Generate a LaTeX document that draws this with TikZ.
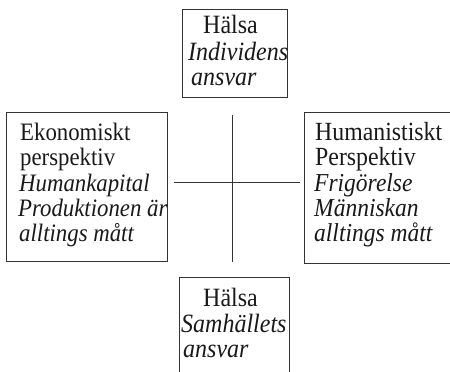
\documentclass[tikz,border=0pt]{standalone}
\usepackage{graphicx}
\usepackage{fontspec}
\setmainfont{Liberation Serif}
\newcommand\vst[1]{\scalebox{1}[1.1]{#1}}
\begin{document}
\begin{tikzpicture}[x=1pt,y=-1pt,
  box/.style={draw=black!80, line width=1pt, inner sep=0pt, anchor=north west},
  txt/.style={anchor=base west, inner sep=0pt, text=black!90, font=\fontsize{22.8}{26}\selectfont},
  itx/.style={txt, font=\fontsize{22.8}{26}\selectfont\itshape},
  big/.style={font=\fontsize{24}{26}\selectfont},
  bigit/.style={font=\fontsize{24}{26}\selectfont\itshape},
  mid/.style={font=\fontsize{23.8}{26}\selectfont},
  midit/.style={font=\fontsize{23.5}{26}\selectfont\itshape},
  rule/.style={draw=black!80, line width=1pt}]
\useasboundingbox (0,0) rectangle (450,372);
\clip (0,0) rectangle (450,372);
% boxes
\node[box, minimum width=105pt, minimum height=88pt] (topbox) at (182,9) {};
\node[box, minimum width=161pt, minimum height=149pt] (leftbox) at (6,112) {};
\node[box, minimum width=156pt, minimum height=151pt] (rightbox) at (304,112) {};
\node[box, minimum width=110pt, minimum height=103pt] (botbox) at (179,277) {};
% cross
\coordinate (h1) at (174,182);
\coordinate (h2) at (300,182);
\coordinate (v1) at (232,115);
\coordinate (v2) at (232,262);
\draw[rule] (h1) -- (h2);
\draw[rule] (v1) -- (v2);
% top texts
\node[txt, big] (t1) at (203,34) {\vst{Hälsa}};
\node[itx, bigit] (t2) at (188,60) {\vst{Individens}};
\node[itx, bigit] (t3) at (191,85) {\vst{ansvar}};
% left texts
\node[txt] (l1) at (20,140) {\vst{Ekonomiskt}};
\node[txt] (l2) at (20,165.5) {\vst{perspektiv}};
\node[itx] (l3) at (19,191) {\vst{Humankapital}};
\node[itx] (l4) at (18,216) {\vst{Produktionen är}};
\node[itx] (l5) at (19,241) {\vst{alltings mått}};
% right texts
\node[txt, mid] (r1) at (315,140) {\vst{Humanistiskt}};
\node[txt, mid] (r2) at (315,165.5) {\vst{Perspektiv}};
\node[itx, midit] (r3) at (314,191) {\vst{Frigörelse}};
\node[itx, midit] (r4) at (314,216) {\vst{Människan}};
\node[itx, midit] (r5) at (314,241) {\vst{alltings mått}};
% bottom texts
\node[txt, big] (b1) at (203,306) {\vst{Hälsa}};
\node[itx, bigit] (b2) at (181,332) {\vst{Samhällets}};
\node[itx, bigit] (b3) at (183,357) {\vst{ansvar}};
\end{tikzpicture}
\end{document}
